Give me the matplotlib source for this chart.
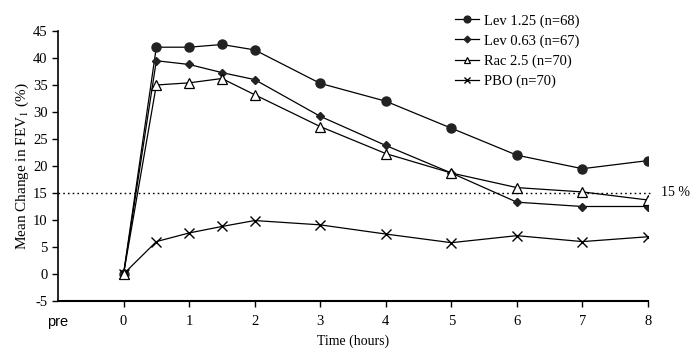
import matplotlib
matplotlib.use("Agg")
import matplotlib.pyplot as plt

times = [0, 0.5, 1, 1.5, 2, 3, 4, 5, 6, 7, 8]
lev125 = [0, 42.0, 42.0, 42.5, 41.5, 35.3, 32.0, 27.0, 22.0, 19.5, 21.0]
lev063 = [0, 39.5, 38.8, 37.3, 36.0, 29.2, 23.8, 18.7, 13.3, 12.5, 12.5]
rac25 = [0, 35.0, 35.4, 36.2, 33.2, 27.3, 22.3, 18.7, 16.0, 15.2, 13.7]
pbo = [0, 6.0, 7.6, 8.8, 9.9, 9.1, 7.4, 5.8, 7.1, 6.0, 6.9]
labels = ["Lev 1.25 (n=68)", "Lev 0.63 (n=67)", "Rac 2.5 (n=70)", "PBO (n=70)"]
xtick_pos = [-1, 0, 1, 2, 3, 4, 5, 6, 7, 8]
xtick_labels = ["pre", "0", "1", "2", "3", "4", "5", "6", "7", "8"]
threshold = 15

plt.rcParams['font.family'] = ['Liberation Serif', 'DejaVu Serif']
plt.rcParams['axes.unicode_minus'] = False
plt.rcParams['mathtext.fontset'] = 'stix'

fig = plt.figure(figsize=(6.92, 3.6), dpi=100)
ax = fig.add_axes([58/692, 1-301/360, (648-58)/692, (301-31)/360])

lw = 0.9
ax.plot(times, lev125, color='black', lw=lw, marker='o', ms=6.5, mfc='#222222', mec='#222222', label=labels[0], zorder=4)
ax.plot(times, lev063, color='black', lw=lw, marker='D', ms=4.5, mfc='#222222', mec='#222222', label=labels[1], zorder=4)
ax.plot(times, rac25, color='black', lw=lw, marker='^', ms=6.5, mfc='white', mec='black', mew=0.9, label=labels[2], zorder=5)
ax.plot(times, pbo, color='black', lw=lw, marker='x', ms=6.5, mec='black', mew=1.0, label=labels[3], zorder=4)

ax.plot([-1, 8.05], [threshold, threshold], color='black', ls=(0, (1.2, 2.2)), lw=1.0, clip_on=False)
ax.text(8.2, threshold, "15 %", va='center', ha='left', fontsize=10)

ax.set_xlim(-1, 8)
ax.set_ylim(-5, 45)
ax.set_yticks(range(-5, 50, 5))
ax.set_xticks(xtick_pos)
ax.set_xticklabels(xtick_labels, fontsize=10.5)
ax.get_xticklabels()[0].set_fontfamily('Liberation Sans')
ax.tick_params(axis='y', labelsize=10.5, direction='out', length=4, width=1)
ax.tick_params(axis='x', direction='out', length=4, width=1, pad=6)
ax.xaxis.get_major_ticks()[0].tick1line.set_visible(False)

for s in ['top', 'right']:
    ax.spines[s].set_visible(False)
ax.spines['left'].set_linewidth(1.2)
ax.spines['bottom'].set_linewidth(1.5)

ax.set_ylabel("Mean Change in FEV$_1$ (%)", fontsize=11, labelpad=1)
ax.set_xlabel("Time (hours)", fontsize=10, labelpad=4)

leg = ax.legend(loc='upper left', bbox_to_anchor=(0.655, 1.1), frameon=False, fontsize=10.5,
                handlelength=1.7, handletextpad=0.3, labelspacing=0.45, borderpad=0.2,
                markerscale=0.75)

fig.savefig("out.png", dpi=100)
